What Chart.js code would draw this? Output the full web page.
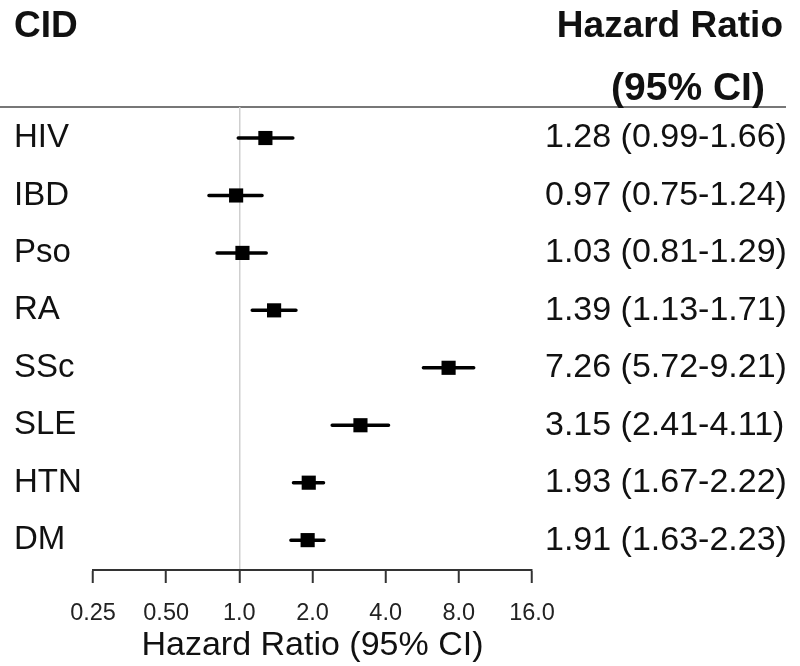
<!DOCTYPE html>
<html>
<head>
<meta charset="utf-8">
<script src="https://cdn.jsdelivr.net/npm/chart.js@4.4.0/dist/chart.umd.min.js"></script>
<style>
  body { margin: 0; background: #fff; }
  #wrap { width: 800px; height: 666px; }
</style>
</head>
<body>
<div id="wrap"><canvas id="myChart" width="800" height="666"></canvas></div>
<script>
// forest plot data
var cids = ['HIV', 'IBD', 'Pso', 'RA', 'SSc', 'SLE', 'HTN', 'DM']
var hr = [1.28, 0.97, 1.03, 1.39, 7.26, 3.15, 1.93, 1.91]
var ciLow = [0.99, 0.75, 0.81, 1.13, 5.72, 2.41, 1.67, 1.63]
var ciHigh = [1.66, 1.24, 1.29, 1.71, 9.21, 4.11, 2.22, 2.23]
var hrText = ['1.28 (0.99-1.66)', '0.97 (0.75-1.24)', '1.03 (0.81-1.29)', '1.39 (1.13-1.71)',
              '7.26 (5.72-9.21)', '3.15 (2.41-4.11)', '1.93 (1.67-2.22)', '1.91 (1.63-2.23)']
var xTicks = [0.25, 0.5, 1, 2, 4, 8, 16]
var xTickLabels = ['0.25', '0.50', '1.0', '2.0', '4.0', '8.0', '16.0']

var wFont = 'Arial, "Liberation Sans", sans-serif'
var rows = cids.map((c, i) => i + 1)

var wPoints = hr.map((v, i) => ({x: v, y: i + 1}))
var wBars = []
ciLow.forEach((lo, i) => {
    wBars.push({x: lo, y: i + 1})
    wBars.push({x: ciHigh[i], y: i + 1})
    wBars.push({x: hr[i], y: null})
})

// header texts + line
var headerPlugin = {
    id: 'header',
    beforeDraw(chart) {
        var ctx = chart.ctx
        var top = chart.chartArea.top
        ctx.save()
        ctx.strokeStyle = '#777'
        ctx.lineWidth = 2
        ctx.beginPath()
        ctx.moveTo(0, top)
        ctx.lineTo(786, top)
        ctx.stroke()
        ctx.fillStyle = '#111'
        ctx.font = 'bold 37px ' + wFont
        ctx.textBaseline = 'alphabetic'
        ctx.textAlign = 'left'
        ctx.fillText('CID', 14, 37)
        ctx.textAlign = 'right'
        ctx.fillText('Hazard Ratio', 783, 37)
        ctx.font = 'bold 39px ' + wFont
        ctx.textAlign = 'center'
        ctx.fillText('(95% CI)', 688, 100)
        ctx.restore()
    }
}

var ctx = document.getElementById('myChart').getContext('2d')
var myChart = new Chart(ctx, {
    type: 'scatter',
    data: {
        datasets: [{
            label: 'HR',
            data: wPoints,
            pointStyle: 'rect',
            pointRadius: 10,
            pointHoverRadius: 10,
            backgroundColor: '#000',
            borderWidth: 0
        }, {
            label: 'CI',
            data: wBars,
            showLine: true,
            spanGaps: false,
            borderColor: '#000',
            borderWidth: 3.5,
            borderCapStyle: 'round',
            pointRadius: 0,
            pointHoverRadius: 0
        }]
    },
    options: {
        responsive: false,
        animation: false,
        layout: { padding: { top: 107, left: 14, right: 14, bottom: 0 } },
        plugins: { legend: { display: false }, tooltip: { enabled: false } },
        scales: {
            x: {
                type: 'logarithmic',
                min: 0.25,
                max: 16,
                afterBuildTicks: (scale) => { scale.ticks = xTicks.map(v => ({value: v})) },
                afterFit: (scale) => { scale.height = 96 },
                ticks: {
                    autoSkip: false,
                    maxRotation: 0,
                    padding: 16,
                    color: '#222',
                    font: { family: wFont, size: 23.5 },
                    callback: (v, i) => xTickLabels[i]
                },
                grid: {
                    drawOnChartArea: true,
                    color: (c) => (c.tick && c.tick.value === 1) ? '#cfcfcf' : 'rgba(0,0,0,0)',
                    lineWidth: 1.5,
                    tickColor: '#333',
                    tickWidth: 2,
                    tickLength: 13
                },
                border: { display: true, color: '#333', width: 2 },
                title: {
                    display: true,
                    text: 'Hazard Ratio (95% CI)',
                    color: '#111',
                    font: { family: wFont, size: 34 },
                    padding: { top: 0, bottom: 0 }
                }
            },
            y: {
                type: 'linear',
                position: 'left',
                reverse: true,
                min: 0.46,
                max: 8.52,
                afterBuildTicks: (scale) => { scale.ticks = rows.map(v => ({value: v})) },
                afterFit: (scale) => { scale.width = 79 },
                ticks: {
                    crossAlign: 'far',
                    color: '#111',
                    font: { family: wFont, size: 33 },
                    callback: (v) => cids[v - 1]
                },
                grid: { display: false, drawTicks: false },
                border: { display: false }
            },
            y2: {
                type: 'linear',
                position: 'right',
                reverse: true,
                min: 0.46,
                max: 8.52,
                afterBuildTicks: (scale) => { scale.ticks = rows.map(v => ({value: v})) },
                afterFit: (scale) => { scale.width = 254 },
                ticks: {
                    crossAlign: 'near',
                    padding: 13,
                    color: '#111',
                    font: { family: wFont, size: 34 },
                    callback: (v) => hrText[v - 1]
                },
                grid: { display: false, drawTicks: false },
                border: { display: false }
            }
        }
    },
    plugins: [headerPlugin]
})
</script>
</body>
</html>
